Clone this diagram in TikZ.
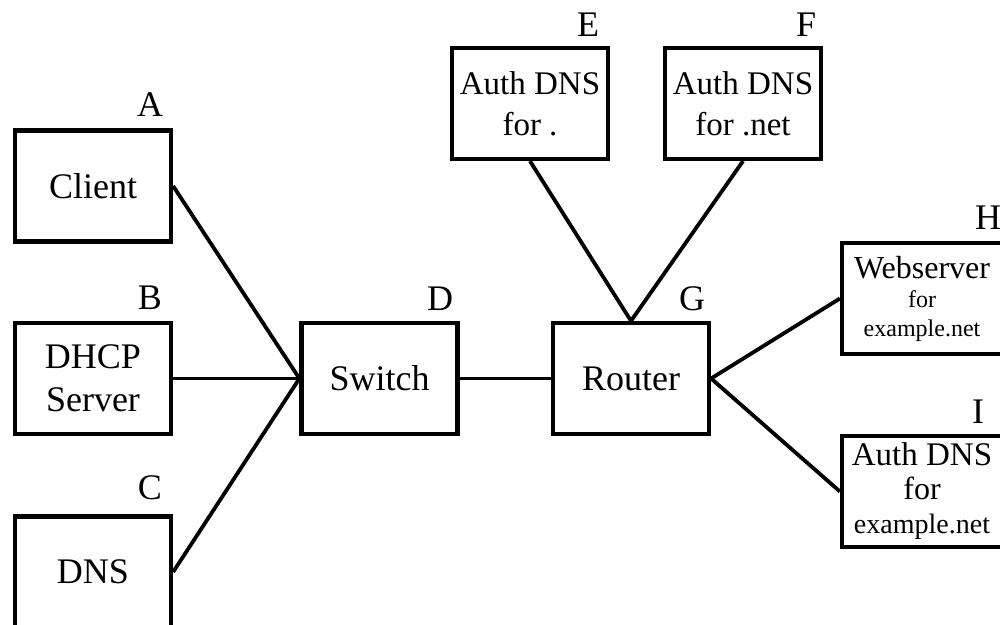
\documentclass[tikz,border=0pt]{standalone}
\usepackage{fontspec}
\setmainfont{Liberation Serif}
\begin{document}
\begin{tikzpicture}[x=0.5pt,y=-0.5pt,
  box/.style={draw=black, line width=2.1pt, rectangle, minimum width=78pt, minimum height=55.5pt, inner sep=0pt, align=center, font=\fontsize{18}{21}\selectfont},
  widebox/.style={box, minimum width=80pt},
  tag/.style={font=\fontsize{18}{20}\selectfont, inner sep=0pt},
  link/.style={line width=1.9pt}]
\useasboundingbox (0,0) rectangle (1000,625);
\clip (0,0) rectangle (1000,625);
\fill[white] (0,0) rectangle (1000,625);
% boxes
\node[box] (A) at (93,186) {Client};
\node[box] (B) at (93,378.5) {DHCP\\[0.5pt]Server};
\node[box] (C) at (93,572) {DNS};
\node[box] (D) at (379.5,378.5) {Switch};
\node[box] (G) at (631,378.5) {Router};
\node[box, font=\fontsize{16.5}{20.5}\selectfont] (E) at (530,103.5) {Auth DNS\\for .};
\node[box, font=\fontsize{16.5}{20.5}\selectfont] (F) at (743,103.5) {Auth DNS\\for .net};
\node[widebox, font=\fontsize{12}{14.5}\selectfont] (H) at (922,298.5) {{\fontsize{16}{16}\selectfont Webserver}\\for\\example.net};
\node[widebox, font=\fontsize{14}{17}\selectfont] (I) at (922,491.5) {{\fontsize{16.5}{18}\selectfont Auth DNS}\\{\fontsize{16}{16}\selectfont for}\\example.net};
% letter tags
\node[tag] (tA) at (150,105) {A};
\node[tag] (tB) at (150,298) {B};
\node[tag] (tC) at (150,488) {C};
\node[tag] (tD) at (440,299) {D};
\node[tag] (tE) at (588,25) {E};
\node[tag] (tF) at (806,25) {F};
\node[tag] (tG) at (692,299) {G};
\node[tag] (tH) at (988,218) {H};
\node[tag] (tI) at (978,412) {I};
% connectors
\draw[link] (A.east) -- (D.west);
\draw[link] (B.east) -- (D.west);
\draw[link] (C.east) -- (D.west);
\draw[link] (D.east) -- (G.west);
\draw[link] (E.south) -- (G.north);
\draw[link] (F.south) -- (G.north);
\draw[link] (G.east) -- (H.west);
\draw[link] (G.east) -- (I.west);
\end{tikzpicture}
\end{document}
